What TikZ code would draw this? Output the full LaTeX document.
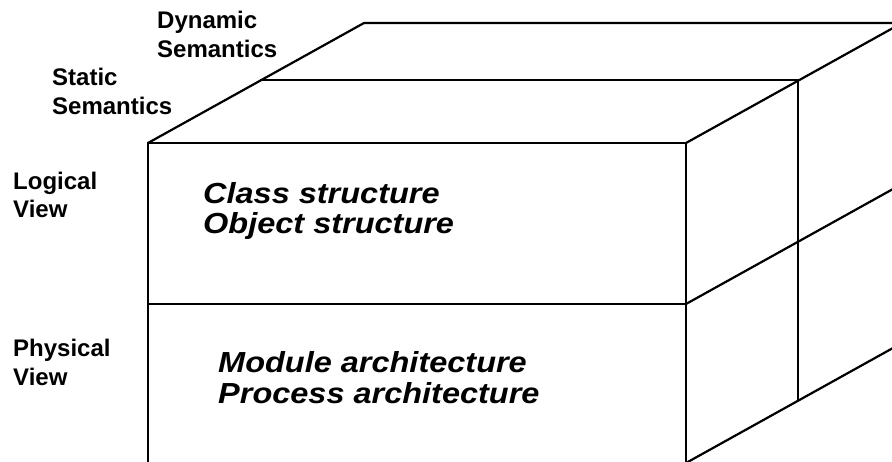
\documentclass[tikz,border=0pt]{standalone}
\usepackage{fontspec}
\setmainfont{Liberation Sans}
\begin{document}
\begin{tikzpicture}[x=1pt,y=-1pt,
  edge/.style={line width=2.2pt},
  lab/.style={font=\fontsize{24}{28}\selectfont\bfseries, anchor=base west, inner sep=0pt},
  big/.style={font=\fontsize{29}{30}\selectfont\bfseries\itshape, anchor=base west, inner sep=0pt}]
\useasboundingbox (0,0) rectangle (892,462);
\clip (0,0) rectangle (892,462);
% front face
\coordinate (FTL) at (148,143);
\coordinate (FTR) at (686,143);
\coordinate (FML) at (148,304);
\coordinate (FMR) at (686,304);
\coordinate (FBL) at (148,463);
\coordinate (FBR) at (686,463);
% middle layer
\coordinate (MTL) at (260,80);
\coordinate (MTR) at (798,80);
\coordinate (MBR) at (798,400);
% back layer
\coordinate (BTL) at (364,23);
\coordinate (BTR) at (902,23);
\coordinate (BMR) at (902,184);
\coordinate (BBR) at (902,343);
\draw[edge] (FBL) -- (FTL) -- (FTR) -- (FBR);
\draw[edge] (FML) -- (FMR);
\draw[edge] (FTL) -- (BTL) -- (BTR);
\draw[edge] (FTR) -- (BTR);
\draw[edge] (MTL) -- (MTR) -- (MBR);
\draw[edge] (FMR) -- (BMR);
\draw[edge] (FBR) -- (BBR);
% labels
\node[lab] (dyn1) at (157,29) {Dynamic};
\node[lab] (dyn2) at (157,58) {Semantics};
\node[lab] (sta1) at (52,86) {Static};
\node[lab] (sta2) at (52,115) {Semantics};
\node[lab] (log1) at (13,190) {Logical};
\node[lab] (log2) at (13,218) {View};
\node[lab] (phy1) at (13,357) {Physical};
\node[lab] (phy2) at (13,385) {View};
\node[big] (cls) at (203,204) {\scalebox{1.12}[1]{Class structure}};
\node[big] (obj) at (203,234) {\scalebox{1.12}[1]{Object structure}};
\node[big] (mod) at (218,373) {\scalebox{1.12}[1]{Module architecture}};
\node[big] (pro) at (218,403) {\scalebox{1.12}[1]{Process architecture}};
\end{tikzpicture}
\end{document}
